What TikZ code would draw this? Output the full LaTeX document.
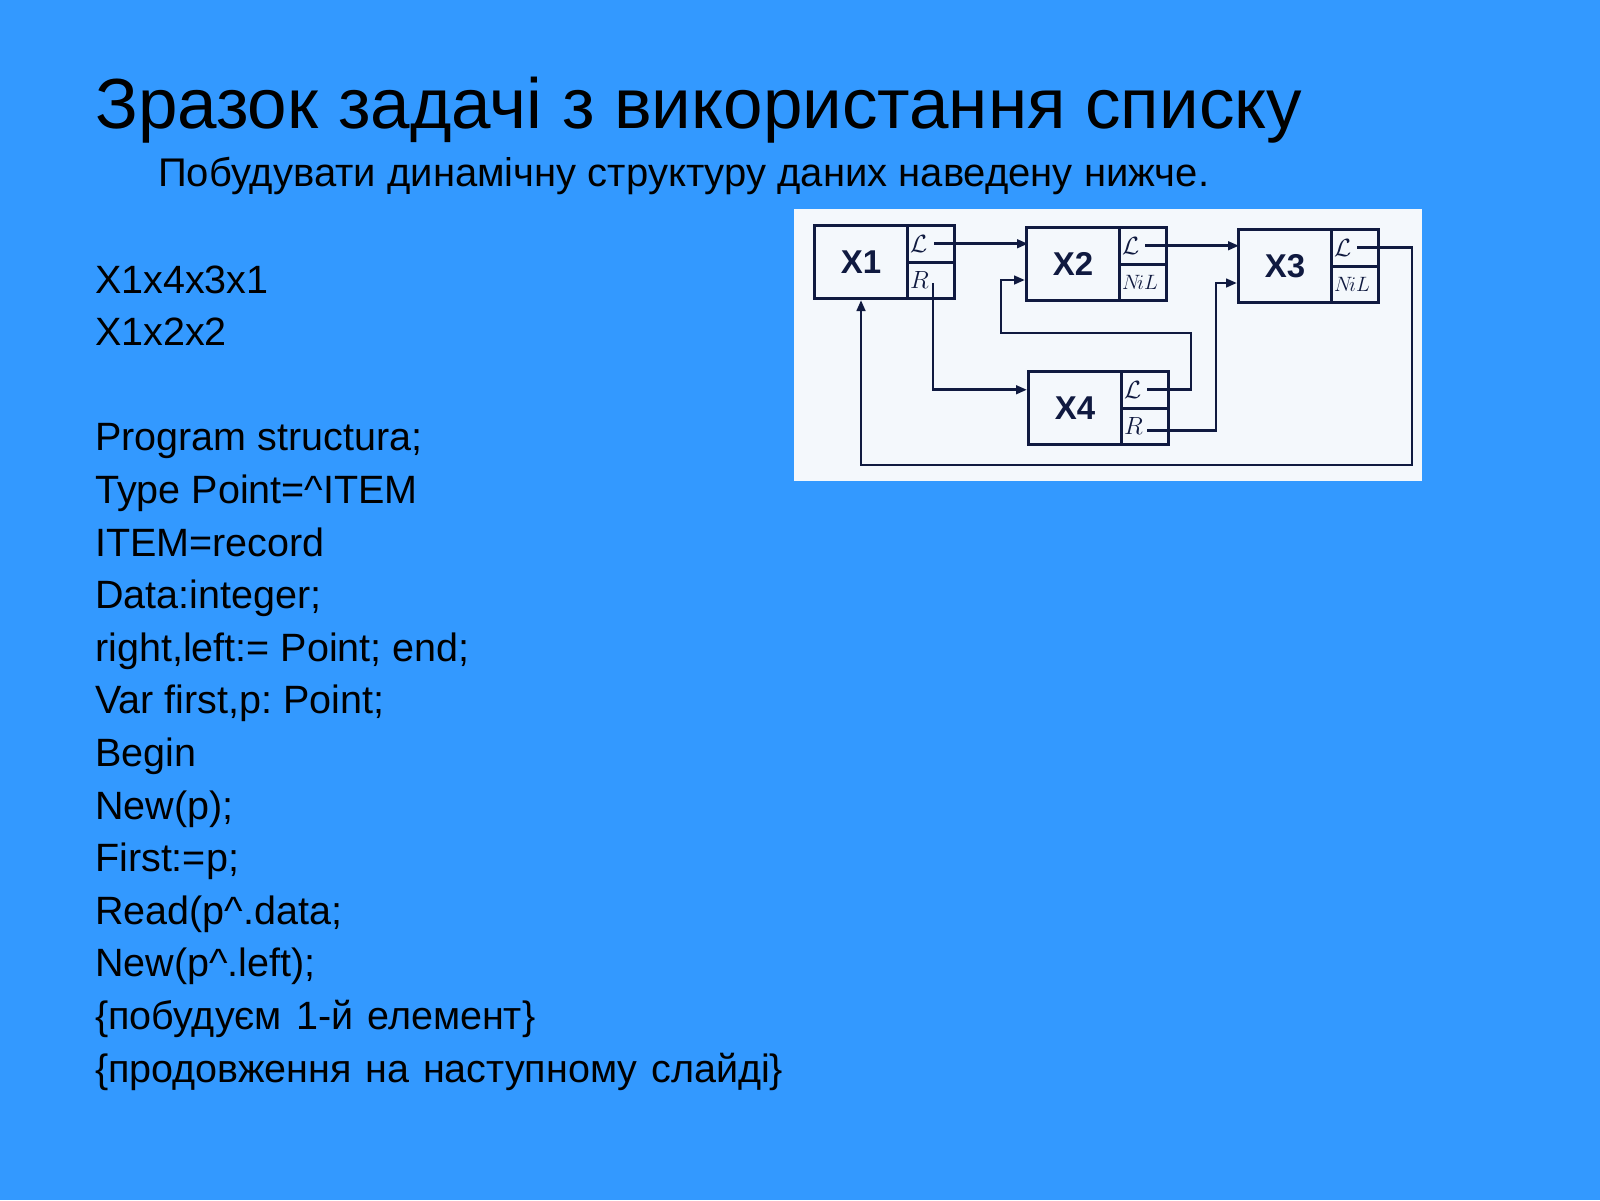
\documentclass[tikz,border=0pt]{standalone}
\usepackage{fontspec}
\setmainfont{Liberation Sans}
\usetikzlibrary{arrows.meta}
\definecolor{bg}{HTML}{3399FF}
\definecolor{ink}{HTML}{101A40}
\definecolor{paper}{HTML}{F4F8FC}
\frenchspacing
\newcommand\listbox[6]{%
  \node[datapart] (#1) at (#2,#3) {#4};
  \node[cell] (#1l) at (#2+93,#3) {};
  \node[cell] (#1r) at (#2+93,#3+36.5) {};
  \node[celltext] (#1lt) at ([xshift=4pt]#1l.west) {#5};
  \node[celltext] (#1rt) at ([xshift=4pt]#1r.west) {#6};
}
\begin{document}
\begin{tikzpicture}[x=1pt,y=-1pt,
  body/.style={anchor=base west, inner sep=0pt, font=\fontsize{39.5}{47}\selectfont},
  datapart/.style={draw=ink, line width=3pt, minimum width=93pt, minimum height=73pt,
    inner sep=0pt, anchor=north west, text=ink, font=\fontsize{33}{33}\selectfont\bfseries},
  cell/.style={draw=ink, line width=3pt, minimum width=47pt, minimum height=36.5pt,
    inner sep=0pt, anchor=north west},
  celltext/.style={anchor=west, inner sep=0pt, text=ink, font=\fontsize{26}{26}\selectfont},
  conn/.style={draw=ink, line width=2.8pt},
  arr/.style={conn, -{Triangle[length=11pt,width=8.5pt]}}]
\fill[bg] (0,0) rectangle (1600,1200);
\useasboundingbox (0,0) rectangle (1600,1200);

% title and subtitle
\node[anchor=base west, inner sep=0pt, font=\fontsize{71}{80}\selectfont] (title) at (95,128)
  {Зразок задачі з використання списку};
\node[anchor=base west, inner sep=0pt, font=\fontsize{40}{46}\selectfont] (sub) at (158,186)
  {\makebox[1051pt][s]{Побудувати динамічну структуру даних наведену нижче.}};

% body text
\node[body] (t0) at (95,293) {X1x4x3x1};
\node[body] (t1) at (95,345.6) {X1x2x2};
\node[body] (t3) at (95,450.8) {Program structura;};
\node[body] (t4) at (95,503.4) {Type Point=\^{}ITEM};
\node[body] (t5) at (95,556) {ITEM=record};
\node[body] (t6) at (95,608.6) {Data:integer;};
\node[body] (t7) at (95,661.2) {right,left:= Point; end;};
\node[body] (t8) at (95,713.8) {Var first,p: Point;};
\node[body] (t9) at (95,766.4) {Begin};
\node[body] (t10) at (95,819) {New(p);};
\node[body] (t11) at (95,871.6) {First:=p;};
\node[body] (t12) at (95,924.2) {Read(p\^{}.data;};
\node[body] (t13) at (95,976.8) {New(p\^{}.left);};
\node[body] (t14) at (95,1029.4) {\makebox[440pt][s]{\{побудуєм 1-й елемент\}}};
\node[body] (t15) at (95,1082) {\makebox[688pt][s]{\{продовження на наступному слайді\}}};

% diagram panel
\fill[paper] (794,209) rectangle (1422,481);

\listbox{x1}{813}{224}{X1}{$\mathcal{L}$}{$R$}
\listbox{x2}{1025}{226}{X2}{$\mathcal{L}$}{\fontsize{20}{20}\selectfont$N\!iL$}
\listbox{x3}{1237}{228}{X3}{$\mathcal{L}$}{\fontsize{20}{20}\selectfont$N\!iL$}
\listbox{x4}{1027}{370}{X4}{$\mathcal{L}$}{$R$}

\coordinate (loopA) at (1191,333);
\coordinate (loopB) at (1001,280);
\coordinate (loopC) at (1216,283);
\coordinate (loopD) at (1412,465);

\draw[arr] ([xshift=3pt]x1l.center) -- ([xshift=3pt]x1l.center -| x2.west);
\draw[arr] ([xshift=2pt]x2l.center) -- ([xshift=2pt]x2l.center -| x3.west);
\draw[arr] ([shift={(2pt,-3pt)}]x1r.center) |- (x4l.center -| x4.west);
\draw[arr] ([xshift=2pt]x4l.center) -| (loopA) -| (loopB) -- (loopB -| x2.west);
\draw[arr] ([shift={(2pt,-4pt)}]x4r.center) -| (loopC) -- (loopC -| x3.west);
\draw[arr] ([xshift=2pt]x3l.center) -| (loopD) -| (x1.south);
\end{tikzpicture}
\end{document}
